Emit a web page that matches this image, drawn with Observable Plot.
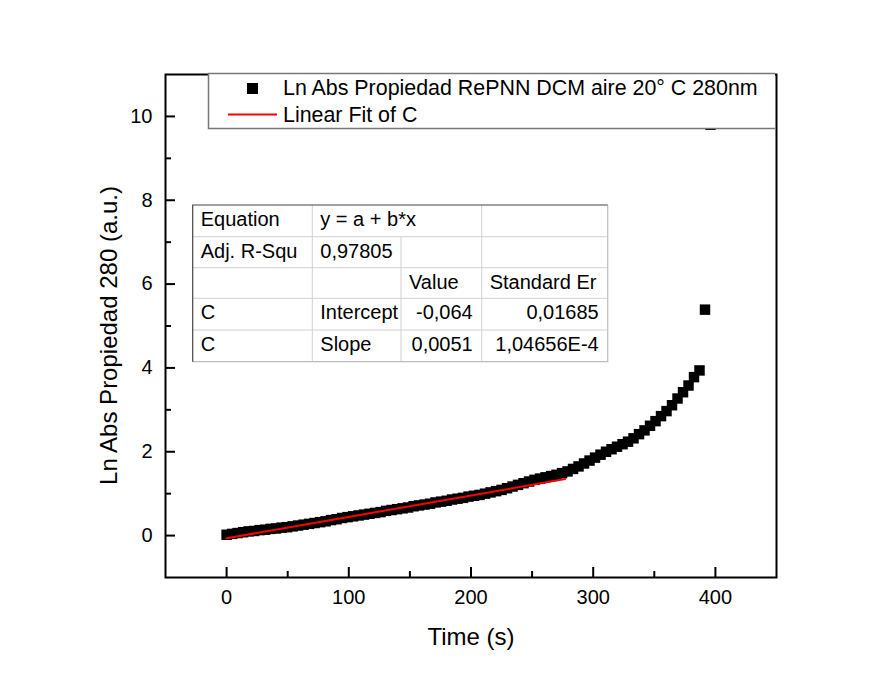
<!DOCTYPE html>
<html><head><meta charset="utf-8">
<script src="https://cdn.jsdelivr.net/npm/d3@7"></script>
<script src="https://cdn.jsdelivr.net/npm/@observablehq/plot@0.6"></script>
<style>body{margin:0;background:#fff;}</style>
</head><body><div id="chart"></div>
<script>
// ---- data ----
const time = [0,4.5,9,13.5,18,22.5,27,31.5,36,40.5,45,49.5,54,58.5,63,67.5,72,76.5,81,85.5,90,94.5,99,103.5,108,112.5,117,121.5,126,130.5,135,139.5,144,148.5,153,157.5,162,166.5,171,175.5,180,184.5,189,193.5,198,202.5,207,211.5,216,220.5,225,229.5,234,238.5,243,247.5,252,256.5,261,265.5,270,274.5,279,283.5,288,292.5,297,301.5,306,310.5,315,319.5,324,328.5,333,337.5,342,346.5,351,355.5,360,364.5,369,373.5,378,382.5,387,391.5,396];
const lnAbs = [0.02,0.04,0.06,0.08,0.10,0.11,0.13,0.14,0.16,0.17,0.19,0.20,0.22,0.24,0.26,0.28,0.30,0.32,0.34,0.37,0.39,0.42,0.44,0.46,0.48,0.50,0.52,0.54,0.56,0.59,0.61,0.63,0.65,0.67,0.70,0.72,0.74,0.76,0.79,0.81,0.83,0.86,0.88,0.90,0.93,0.95,0.97,1.00,1.03,1.06,1.09,1.13,1.17,1.21,1.25,1.29,1.33,1.36,1.39,1.42,1.45,1.49,1.53,1.59,1.65,1.72,1.79,1.86,1.93,2.00,2.06,2.12,2.18,2.24,2.32,2.42,2.51,2.62,2.73,2.85,2.97,3.11,3.27,3.42,3.58,3.78,3.94,5.39,9.80];
const intercept = -0.064;
const slope = 0.0051;
const fitTime = [0, 277];
const xMajor = [0, 100, 200, 300, 400];
const xMinor = [50, 150, 250, 350];
const yMajor = [0, 2, 4, 6, 8, 10];
const yMinor = [1, 3, 5, 7, 9];
const seriesName = "Ln Abs Propiedad RePNN DCM aire 20° C 280nm";
const fitName = "Linear Fit of C";
const xLabel = "Time (s)";
const yLabel = "Ln Abs Propiedad 280 (a.u.)";
const tableRows = [
  ["Equation", "y = a + b*x", "", ""],
  ["Adj. R-Squ", "0,97805", "", ""],
  ["", "", "Value", "Standard Er"],
  ["C", "Intercept", "-0,064", "0,01685"],
  ["C", "Slope", "0,0051", "1,04656E-4"]
];

const points = time.map((t, i) => ({time: t, lnAbs: lnAbs[i]}));
const fitPts = fitTime.map(t => ({time: t, fit: intercept + slope * t}));

const FONT = "Liberation Sans, Arial, Helvetica, sans-serif";
const W = 887, H = 689, ML = 165, MR = 111, MT = 74, MB = 112;
const fw = W - ML - MR, fh = H - MT - MB;

const chart = Plot.plot({
  width: W, height: H,
  marginLeft: ML, marginRight: MR, marginTop: MT, marginBottom: MB,
  style: {fontFamily: FONT, background: "white", color: "black"},
  x: {domain: [-50, 450]},
  y: {domain: [-1, 11]},
  marks: [
    Plot.dot(points, {x: "time", y: "lnAbs", symbol: "square", r: 5.9, fill: "black", stroke: null}),
    Plot.line(fitPts, {x: "time", y: "fit", stroke: "#ff0000", strokeWidth: 2}),
    Plot.tickX(xMajor, {x: d => d, stroke: "black", strokeWidth: 2, insetTop: fh - 10}),
    Plot.tickX(xMinor, {x: d => d, stroke: "black", strokeWidth: 2, insetTop: fh - 6}),
    Plot.tickY(yMajor, {y: d => d, stroke: "black", strokeWidth: 2, insetRight: fw - 10}),
    Plot.tickY(yMinor, {y: d => d, stroke: "black", strokeWidth: 2, insetRight: fw - 6}),
    Plot.frame({stroke: "black", strokeWidth: 2}),
    Plot.axisX({ticks: xMajor, tickSize: 0, tickPadding: 12, fontSize: 20, label: null}),
    Plot.axisY({ticks: yMajor, tickSize: 0, tickPadding: 13, fontSize: 20, label: null}),
    Plot.text([xLabel], {frameAnchor: "bottom", textAnchor: "middle", lineAnchor: "middle", dy: 60, fontSize: 24, fill: "black"}),
    Plot.text([yLabel], {frameAnchor: "left", textAnchor: "middle", lineAnchor: "middle", rotate: -90, dx: -56, dy: 9.5, fontSize: 24, fill: "black"})
  ]
});
document.getElementById("chart").appendChild(chart);

const svg = d3.select(chart);

// ---- legend box ----
const lg = svg.append("g").attr("font-family", FONT).attr("text-anchor", "start");
lg.append("rect").attr("x", 208.5).attr("y", 73.5).attr("width", 775 - 208.5).attr("height", 128.5 - 73.5)
  .attr("fill", "white").attr("stroke", "none");
lg.append("path").attr("d", "M775,73.5H208.5V128.5H775").attr("fill", "none").attr("stroke", "#777").attr("stroke-width", 1.5);
lg.append("rect").attr("x", 247).attr("y", 83).attr("width", 11).attr("height", 11).attr("fill", "black");
lg.append("text").attr("x", 283).attr("y", 95).attr("font-size", 21.4).attr("text-anchor", "start").text(seriesName);
lg.append("line").attr("x1", 228).attr("x2", 277).attr("y1", 114.5).attr("y2", 114.5).attr("stroke", "#ff0000").attr("stroke-width", 2);
lg.append("text").attr("x", 283).attr("y", 122).attr("font-size", 21.4).attr("text-anchor", "start").text(fitName);

// ---- fit-result table ----
const colX = [192.7, 312.3, 401, 481.7, 607.7];
const rowY = [205, 236.7, 267.7, 298.3, 330, 361.7];
const tg = svg.append("g").attr("font-family", FONT).attr("font-size", 20);
tg.append("rect").attr("x", colX[0]).attr("y", rowY[0]).attr("width", colX[4] - colX[0]).attr("height", rowY[5] - rowY[0])
  .attr("fill", "white");
for (let r = 1; r < 5; r++) {
  tg.append("line").attr("x1", colX[0]).attr("x2", colX[4]).attr("y1", rowY[r]).attr("y2", rowY[r]).attr("stroke", "#d0d0d0");
}
tg.append("line").attr("x1", colX[1]).attr("x2", colX[1]).attr("y1", rowY[0]).attr("y2", rowY[5]).attr("stroke", "#d0d0d0");
tg.append("line").attr("x1", colX[2]).attr("x2", colX[2]).attr("y1", rowY[1]).attr("y2", rowY[5]).attr("stroke", "#d0d0d0");
tg.append("line").attr("x1", colX[3]).attr("x2", colX[3]).attr("y1", rowY[0]).attr("y2", rowY[5]).attr("stroke", "#d0d0d0");
tg.append("path").attr("d", `M${colX[4]},${rowY[0]}V${rowY[5]}H${colX[0]}`).attr("fill", "none").attr("stroke", "#bdbdbd").attr("stroke-width", 1.2);
tg.append("path").attr("d", `M${colX[0]},${rowY[5]}V${rowY[0]}H${colX[4]}`).attr("fill", "none").attr("stroke", "#444").attr("stroke-width", 1.2);
tableRows.forEach((row, r) => {
  row.forEach((cell, c) => {
    if (!cell) return;
    const numeric = c >= 2 && r >= 3;
    tg.append("text")
      .attr("x", numeric ? colX[c + 1] - 9 : colX[c] + 8)
      .attr("y", rowY[r] + 21)
      .attr("text-anchor", numeric ? "end" : "start")
      .attr("fill", "black")
      .text(cell);
  });
});
</script>
</body></html>
